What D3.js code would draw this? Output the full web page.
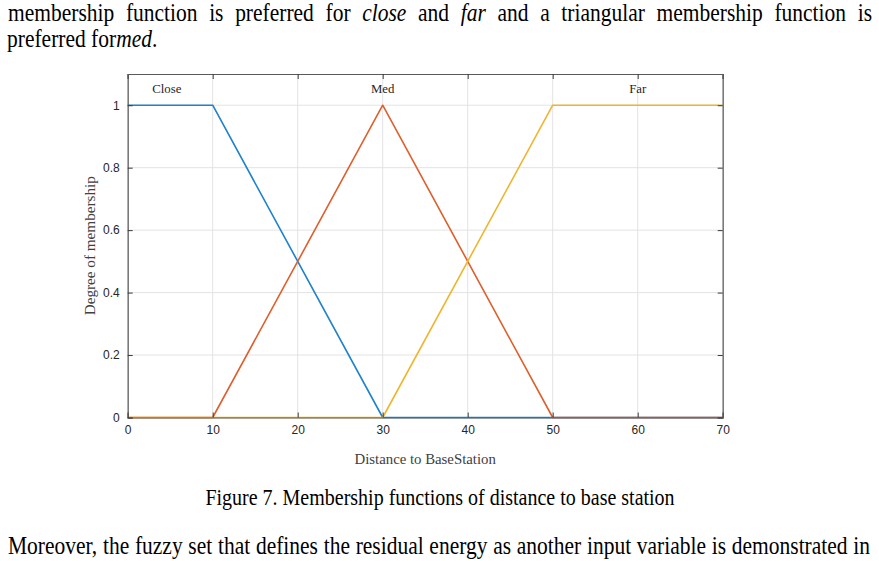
<!DOCTYPE html>
<html><head><meta charset="utf-8">
<script src="https://cdn.jsdelivr.net/npm/d3@7"></script>
<style>body{margin:0;background:#fff}svg{display:block}</style>
</head><body>
<svg id="c" width="879" height="561"></svg>
<script>
const xTicks=[0,10,20,30,40,50,60,70];
const yTicks=[0,0.2,0.4,0.6,0.8,1];
const yTickLabels=["0","0.2","0.4","0.6","0.8","1"];
const seriesNames=["Close","Med","Far"];
const closeX=[0,10,30,70], closeY=[1,1,0,0];
const medX=[0,10,30,50,70], medY=[0,0,1,0,0];
const farX=[0,30,50,70], farY=[0,0,1,1];
const labelX=[4.6,30,60];
const colors=["#1f82cc","#df5f2c","#efb52e"];

const svg=d3.select("#c");
const L=127.7,R=722.7,T=74,B=417.5;
const x=d3.scaleLinear().domain([0,70]).range([L,R]);
const y=d3.scaleLinear().domain([0,1.1]).range([B,T]);
const serif="'Liberation Serif','Times New Roman',serif";
const sans="'Liberation Sans',Arial,sans-serif";
const SY=1.15;

function para(xp,base,size,html,len,anchor){
  const t=svg.append("g").attr("transform",`translate(${xp},${base}) scale(1,${SY})`)
    .append("text").attr("x",0).attr("y",0).attr("font-family",serif).attr("font-size",size).attr("fill","#000");
  if(anchor) t.attr("text-anchor",anchor);
  t.html(html);
  if(len){
    const nat=t.node().getComputedTextLength();
    const spaces=(t.text().match(/ /g)||[]).length;
    if(spaces>0) t.attr("word-spacing",(len-nat)/spaces);
  }
  return t;
}
para(8,21.3,21.5,'membership function is preferred for <tspan font-style="italic">close</tspan> and <tspan font-style="italic">far</tspan> and a triangular membership function is',864);
para(7,46.7,21.5,'preferred for<tspan font-style="italic">med</tspan>.');

// grid
const g=svg.append("g");
g.selectAll(".gx").data(xTicks).join("line").attr("x1",d=>x(d)).attr("x2",d=>x(d)).attr("y1",T).attr("y2",B)
  .attr("stroke","#e3e3e3").attr("stroke-width",1);
g.selectAll(".gy").data(yTicks).join("line").attr("y1",d=>y(d)).attr("y2",d=>y(d)).attr("x1",L).attr("x2",R)
  .attr("stroke","#e3e3e3").attr("stroke-width",1);

// series
const line=d3.line().x(d=>x(d[0])).y(d=>y(d[1]));
const data=[d3.zip(closeX,closeY),d3.zip(medX,medY),d3.zip(farX,farY)];
data.forEach((d,i)=>{
  svg.append("path").datum(d).attr("d",line).attr("fill","none").attr("stroke",colors[i]).attr("stroke-width",1.6)
    .attr("stroke-linejoin","round");
});

// axes
const xb=d3.axisBottom(x).tickValues(xTicks).tickSize(-5).tickPadding(8).tickFormat(d3.format("d"));
const xt=d3.axisTop(x).tickValues(xTicks).tickSize(-5).tickFormat("");
const yl=d3.axisLeft(y).tickValues(yTicks).tickSize(-5).tickPadding(8).tickFormat((d,i)=>yTickLabels[i]);
const yr=d3.axisRight(y).tickValues(yTicks).tickSize(-5).tickFormat("");
function styleAxis(s){s.select(".domain").attr("stroke","#5a5a5a").attr("stroke-width",1.2);
  s.selectAll(".tick line").attr("stroke","#3a3a3a");
  s.selectAll(".tick text").attr("fill","#262626").attr("font-family",sans).attr("font-size",12);}
svg.append("g").attr("transform",`translate(0,${B})`).call(xb).call(styleAxis);
svg.append("g").attr("transform",`translate(0,${T})`).call(xt).call(styleAxis);
svg.append("g").attr("transform",`translate(${L},0)`).call(yl).call(styleAxis);
svg.append("g").attr("transform",`translate(${R},0)`).call(yr).call(styleAxis);

// series labels
svg.selectAll(".lab").data(seriesNames).join("text").attr("x",(d,i)=>x(labelX[i])).attr("y",y(1.055)+4.5)
  .attr("text-anchor","middle").attr("font-family",serif).attr("font-size",12.8).attr("fill","#262626").text(d=>d);

// axis labels
svg.append("text").attr("x",(L+R)/2).attr("y",463.5).attr("text-anchor","middle").attr("font-family",serif)
  .attr("font-size",14.8).attr("fill","#404040").text("Distance to BaseStation");
svg.append("text").attr("transform",`translate(95,${(T+B)/2}) rotate(-90)`).attr("text-anchor","middle")
  .attr("font-family",serif).attr("font-size",15.2).attr("fill","#404040").text("Degree of membership");

// caption and paragraph
para(440,504.5,20,"Figure 7. Membership functions of distance to base station",null,"middle");
para(8,554,21.5,"Moreover, the fuzzy set that defines the residual energy as another input variable is demonstrated in",862);
</script>
</body></html>
